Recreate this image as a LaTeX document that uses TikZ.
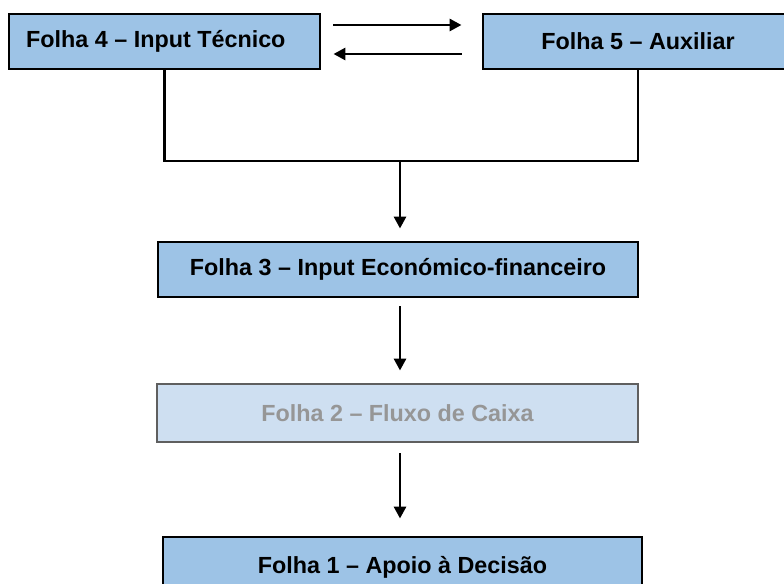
\documentclass[tikz,border=0pt]{standalone}
\usepackage{fontspec}
\setmainfont{Liberation Sans}
\usetikzlibrary{arrows.meta}

\definecolor{sheetblue}{RGB}{157,195,230}
\definecolor{sheetpale}{RGB}{206,223,241}
\definecolor{greytext}{RGB}{150,150,150}
\definecolor{greyline}{RGB}{95,95,95}

\tikzset{every picture/.style={line width=2.2pt}}

\begin{document}
\begin{tikzpicture}[x=0.75pt,y=0.75pt,yscale=-1,xscale=1,line width=2.2pt,
	sheet/.style={draw=black, fill=sheetblue, rectangle, inner sep=0pt, minimum height=41.25pt, font=\fontsize{17.5}{20}\selectfont\bfseries},
	palesheet/.style={sheet, draw=greyline, fill=sheetpale, text=greytext},
	arr/.style={-{Triangle[length=9pt,width=9pt]}}]
	\useasboundingbox (0,0) rectangle (784,584);
	\clip (0,0) rectangle (784,584);

	% Sheets
	\node [sheet, minimum width=233.25pt] (f4) at (164.5,41.5) {\hspace*{-13pt}Folha 4 -- Input Técnico};
	\node [sheet, minimum width=232.5pt] (f5) at (638,41.5) {Folha 5 -- Auxiliar};
	\node [sheet, minimum width=360pt] (f3) at (398,269.5) {Folha 3 -- Input Económico-financeiro};
	\node [palesheet, minimum width=360.75pt, minimum height=43.5pt] (f2) at (397.5,413) {Folha 2 -- Fluxo de Caixa};
	\node [sheet, minimum width=359.25pt, minimum height=45pt] (f1) at (402.5,567) {Folha 1 -- Apoio à Decisão};

	% Helper points
	\coordinate (up) at (0,25);
	\coordinate (dn) at (0,54);
	\coordinate (join) at (400,161);

	% Exchange between sheet 4 and sheet 5
	\draw [arr, shorten <=9pt, shorten >=15pt] (f4.east |- up) -- (f5.west |- up);
	\draw [arr, shorten <=15pt, shorten >=9pt] (f5.west |- dn) -- (f4.east |- dn);

	% Merge into sheet 3
	\draw (f4.south) -- (f4.south |- join) -- (f5.south |- join) -- (f5.south);
	\draw [arr, shorten >=9pt] (join) -- (join |- f3.north);

	% Down the chain
	\draw [arr, shorten <=6pt, shorten >=9pt] (join |- f3.south) -- (join |- f2.north);
	\draw [arr, shorten <=7.5pt, shorten >=12.75pt] (join |- f2.south) -- (join |- f1.north);

\end{tikzpicture}
\end{document}
